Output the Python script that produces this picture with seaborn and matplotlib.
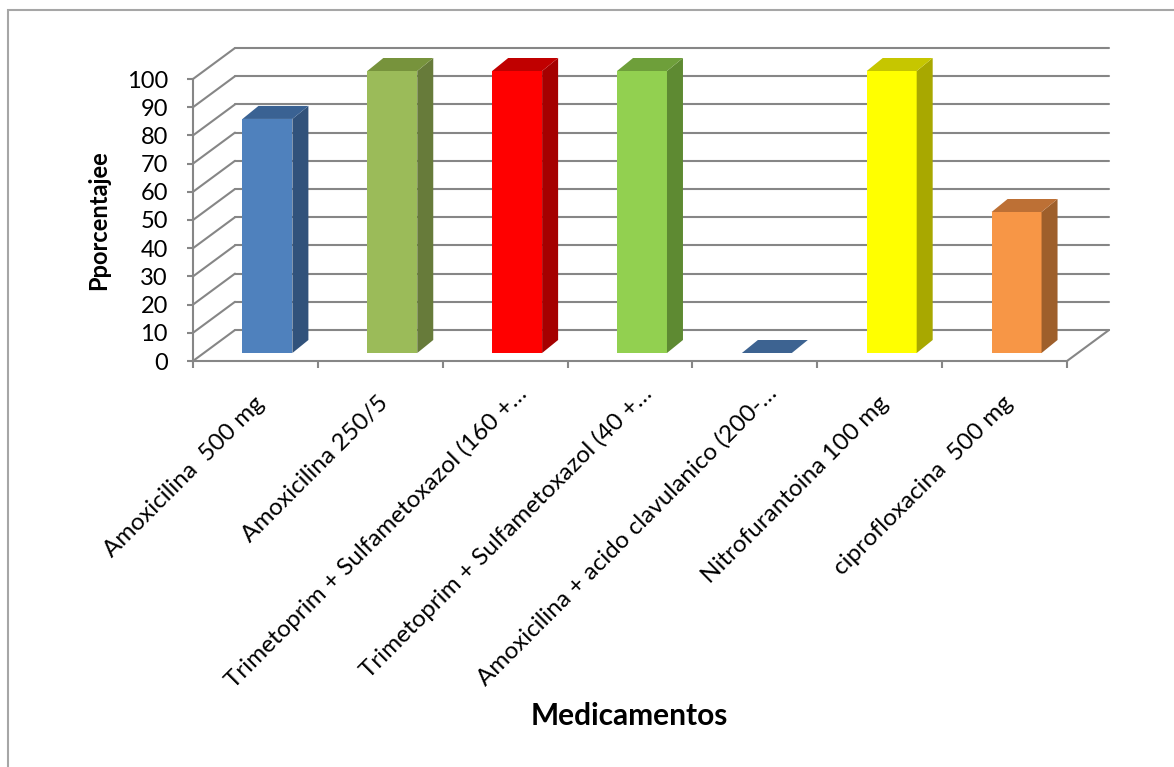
import matplotlib
matplotlib.use("Agg")
import matplotlib.pyplot as plt
import seaborn as sns
from matplotlib.patches import Polygon, Rectangle
from matplotlib.lines import Line2D
from matplotlib.transforms import ScaledTranslation

# --- data -------------------------------------------------------------
medicamentos = [
    "Amoxicilina  500 mg",
    "Amoxicilina 250/5",
    "Trimetoprim + Sulfametoxazol (160 +\u2026",
    "Trimetoprim + Sulfametoxazol (40 +\u2026",
    "Amoxicilina + acido clavulanico (200-\u2026",
    "Nitrofurantoina 100 mg",
    "ciprofloxacina  500 mg",
]
porcentajes = [83, 100, 100, 100, 0, 100, 50]
y_ticks = [0, 10, 20, 30, 40, 50, 60, 70, 80, 90, 100]

# face colours of each 3-D column: front, side, top
color_frente = ["#4F81BD", "#9BBB59", "#FF0000", "#92D050", "#4F81BD", "#FFFF00", "#F79646"]
color_lado = ["#31527B", "#677B3A", "#A50000", "#5E8A32", "#31527B", "#A8A800", "#9E5F2B"]
color_tapa = ["#3A6293", "#77933C", "#C00000", "#6E9F3A", "#3D6391", "#C6C600", "#BD7035"]

# --- style ------------------------------------------------------------
sns.set_theme(style="white")
plt.rcParams["font.family"] = ["Lato", "DejaVu Sans"]

W, H = 1174, 767
DPI = 100
fig = plt.figure(figsize=(W / DPI, H / DPI), dpi=DPI)
fig.patch.set_facecolor("white")

# front plane of the 3-D box (pixel geometry of the plot area)
left_px, right_px, bottom_px, top_px = 193, 1067, 361, 79
ax = fig.add_axes([left_px / W, 1 - bottom_px / H,
                   (right_px - left_px) / W, (bottom_px - top_px) / H])
ax.set_facecolor("none")

n = len(medicamentos)
ppc = (right_px - left_px) / n          # pixels per category
ppu = (bottom_px - top_px) / 100.0      # pixels per percentage unit

grid_col = "#868686"
grid_lw = 1.5

# --- bars (front faces) ----------------------------------------------
sns.barplot(x=medicamentos, y=porcentajes, hue=medicamentos,
            palette=color_frente, width=0.40, saturation=1,
            legend=False, linewidth=0, ax=ax, zorder=3)
ax.set_xlim(-0.5, n - 0.5)
ax.set_ylim(0, 100)

# columns stand a little behind the front edge of the floor
bar_shift = ScaledTranslation(12 / DPI, 8 / DPI, fig.dpi_scale_trans)
bar_tr = ax.transData + bar_shift
depth_dx, depth_dy = 16 / ppc, 13 / ppu

bars = sorted(ax.patches, key=lambda p: p.get_x())
for i, p in enumerate(bars):
    p.set_transform(bar_tr)
    p.set_clip_on(False)
    x0, y0 = p.get_x(), p.get_y()
    x1, y1 = x0 + p.get_width(), y0 + p.get_height()
    if p.get_height() <= 0:
        p.set_visible(False)
    else:
        side = Polygon([(x1, y0), (x1 + depth_dx, y0 + depth_dy),
                        (x1 + depth_dx, y1 + depth_dy), (x1, y1)],
                       closed=True, facecolor=color_lado[i], edgecolor="none",
                       transform=bar_tr, clip_on=False, zorder=3)
        ax.add_patch(side)
    top = Polygon([(x0, y1), (x1, y1), (x1 + depth_dx, y1 + depth_dy),
                   (x0 + depth_dx, y1 + depth_dy)],
                  closed=True, facecolor=color_tapa[i], edgecolor="none",
                  transform=bar_tr, clip_on=False, zorder=3)
    ax.add_patch(top)

# --- walls and floor ---------------------------------------------------
wall_dx, wall_dy = 42 / ppc, 31 / ppu
xl, xr = -0.5, n - 0.5
for v in y_ticks:
    ax.add_line(Line2D([xl + wall_dx, xr + wall_dx], [v + wall_dy, v + wall_dy],
                       color=grid_col, lw=grid_lw, clip_on=False, zorder=1))
    ax.add_line(Line2D([xl, xl + wall_dx], [v, v + wall_dy],
                       color=grid_col, lw=grid_lw, clip_on=False, zorder=1))
ax.add_line(Line2D([xr, xr + wall_dx], [0, wall_dy],
                   color=grid_col, lw=grid_lw, clip_on=False, zorder=1))

# --- axes, ticks -------------------------------------------------------
for s in ["top", "right"]:
    ax.spines[s].set_visible(False)
for s in ["left", "bottom"]:
    ax.spines[s].set_color(grid_col)
    ax.spines[s].set_linewidth(grid_lw)
    ax.spines[s].set_zorder(1)

ax.set_yticks(y_ticks)
ax.set_yticklabels([str(v) for v in y_ticks])
ax.tick_params(axis="y", direction="out", length=4, width=grid_lw,
               color=grid_col, labelsize=17, pad=14, left=True,
               labelcolor="black")

ax.set_xticks(range(n))
ax.set_xticks([k - 0.5 for k in range(n + 1)], minor=True)
ax.tick_params(axis="x", which="minor", direction="out", length=5,
               width=grid_lw, color=grid_col, bottom=True)
ax.tick_params(axis="x", which="major", length=0, pad=28, labelsize=17.5,
               labelcolor="black")
label_shift = ScaledTranslation(5 / DPI, 0, fig.dpi_scale_trans)
# truncated names sit slightly further along their diagonal
trunc_shift = ScaledTranslation(13 / DPI, 10 / DPI, fig.dpi_scale_trans)
for lab in ax.get_xticklabels():
    lab.set_rotation(45)
    lab.set_rotation_mode("anchor")
    lab.set_ha("right")
    lab.set_va("center")
    tr = lab.get_transform() + label_shift
    if lab.get_text().endswith("\u2026"):
        tr = tr + trunc_shift
    lab.set_transform(tr)

ax.set_xlabel("")
ax.set_ylabel("")

fig.text(99 / W, 1 - 220 / H, "Pporcentajee", rotation=90, ha="center",
         va="center", fontsize=17, fontweight="bold", color="black")
fig.text(629 / W, 1 - 716 / H, "Medicamentos", ha="center", va="center",
         fontsize=21.5, fontweight="bold", color="black")

# chart frame
fig.patches.append(Rectangle((8 / W, -0.2), 1.5, (1 - 10 / H) + 0.2,
                             transform=fig.transFigure, fill=False,
                             edgecolor="#A6A6A6", lw=1.5))

fig.savefig("out.png", dpi=DPI)
